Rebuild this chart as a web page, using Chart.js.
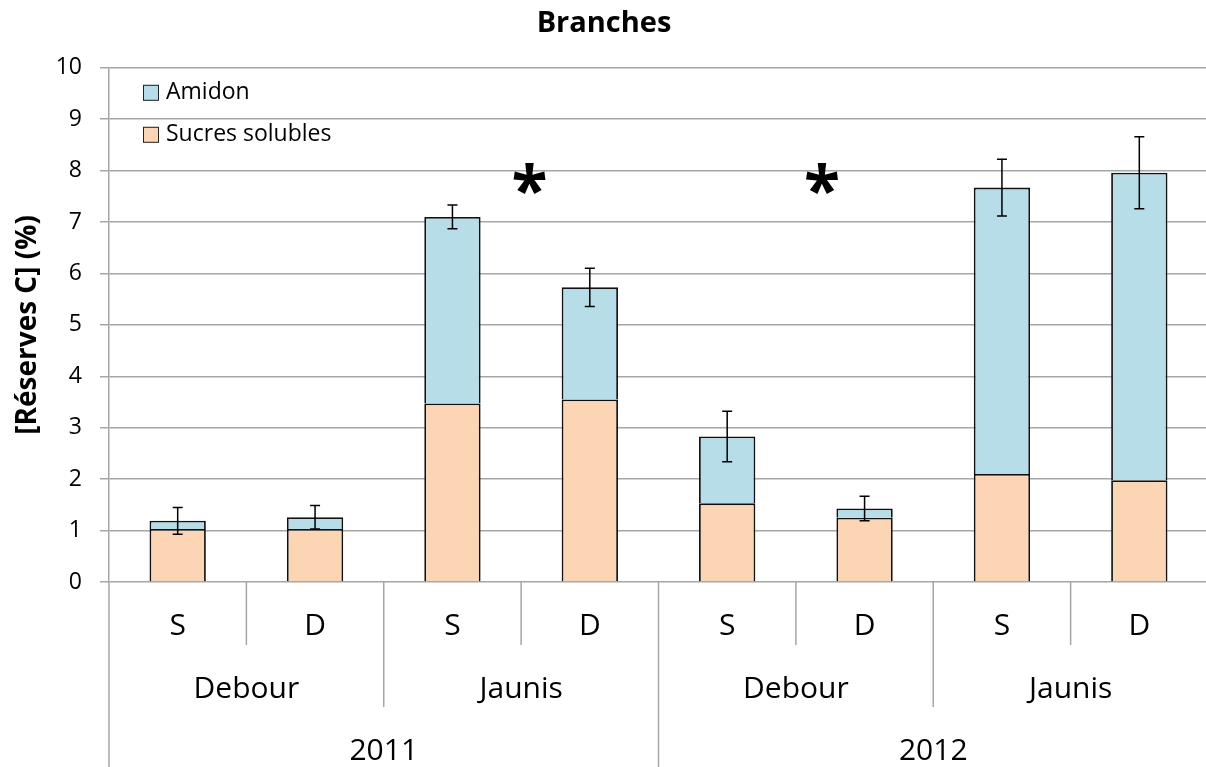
<!DOCTYPE html>
<html>
<head>
<meta charset="utf-8">
<title>Branches</title>
<script src="https://cdn.jsdelivr.net/npm/chart.js@4"></script>
<style>
  html, body { margin: 0; padding: 0; background: #fff; overflow: hidden; }
</style>
</head>
<body>
<canvas id="reservesChart" width="1208" height="767"></canvas>
<script>
// Categories (bottom row of the axis) and their groups
const categories = ["S", "D", "S", "D", "S", "D", "S", "D"];
const stades = ["Debour", "Jaunis", "Debour", "Jaunis"];
const annees = ["2011", "2012"];

// Values (%)
const sucres = [1.03, 1.03, 3.47, 3.55, 1.53, 1.25, 2.10, 1.98];
const amidon = [0.16, 0.23, 3.63, 2.18, 1.30, 0.18, 5.57, 5.98];
const erreurs = [0.26, 0.23, 0.23, 0.37, 0.49, 0.24, 0.55, 0.70];

// significance stars: category position and height
const etoiles = [
  { x: 2.56, y: 7.8 },
  { x: 4.69, y: 7.8 },
];

const yTicks = [0, 1, 2, 3, 4, 5, 6, 7, 8, 9, 10];

const FONT = "'Open Sans', 'DejaVu Sans', sans-serif";
const GRID = "#a6a6a6";

// error bars on top of each stack
const errorBars = {
  id: "errorBars",
  afterDatasetsDraw(chart) {
    const ctx = chart.ctx;
    const x = chart.scales.x, y = chart.scales.y;
    ctx.save();
    ctx.strokeStyle = "#000";
    ctx.lineWidth = 1.5;
    sucres.forEach((s, i) => {
      const tot = s + amidon[i];
      const px = x.getPixelForValue(i);
      const top = y.getPixelForValue(tot + erreurs[i]);
      const bot = y.getPixelForValue(tot - erreurs[i]);
      ctx.beginPath();
      ctx.moveTo(px, top); ctx.lineTo(px, bot);
      ctx.moveTo(px - 5, top); ctx.lineTo(px + 5, top);
      ctx.moveTo(px - 5, bot); ctx.lineTo(px + 5, bot);
      ctx.stroke();
    });
    // stars
    ctx.fillStyle = "#000";
    ctx.font = "bold 66px " + FONT;
    ctx.textAlign = "center";
    ctx.textBaseline = "alphabetic";
    etoiles.forEach(e => {
      ctx.fillText("*", x.getPixelForValue(e.x), y.getPixelForValue(e.y) + 33);
    });
    ctx.restore();
  }
};

// legend inside the plot, top-left
const innerLegend = {
  id: "innerLegend",
  afterDraw(chart) {
    const ctx = chart.ctx;
    const a = chart.chartArea;
    ctx.save();
    ctx.font = "23px " + FONT;
    ctx.textBaseline = "middle";
    ctx.textAlign = "left";
    chart.data.datasets.slice().reverse().forEach((ds, k) => {
      const yy = a.top + 25 + k * 42;
      ctx.fillStyle = ds.backgroundColor;
      ctx.fillRect(a.left + 34, yy - 8, 16, 16);
      ctx.strokeStyle = "#222";
      ctx.lineWidth = 1;
      ctx.strokeRect(a.left + 34.5, yy - 7.5, 15, 15);
      ctx.fillStyle = "#000";
      ctx.fillText(ds.label, a.left + 57, yy);
    });
    ctx.restore();
  }
};

// multi-level category axis: separators and group labels
const groupAxis = {
  id: "groupAxis",
  afterDraw(chart) {
    const ctx = chart.ctx;
    const x = chart.scales.x;
    const a = chart.chartArea;
    const base = a.bottom;
    const H = chart.height;
    const step = x.getPixelForValue(1) - x.getPixelForValue(0);
    const edge = i => x.getPixelForValue(i) - step / 2;
    ctx.save();
    ctx.strokeStyle = GRID;
    ctx.lineWidth = 1.5;
    ctx.beginPath();
    for (let i = 0; i <= categories.length; i++) {
      let bottom = base + 63;
      if (i % 2 === 0) bottom = base + 125;
      if (i % 4 === 0) bottom = H;
      ctx.moveTo(edge(i), base);
      ctx.lineTo(edge(i), bottom);
    }
    ctx.stroke();
    ctx.fillStyle = "#000";
    ctx.font = "30px " + FONT;
    ctx.textAlign = "center";
    ctx.textBaseline = "middle";
    stades.forEach((s, g) => {
      ctx.fillText(s, (edge(g * 2) + edge(g * 2 + 2)) / 2, base + 107);
    });
    annees.forEach((s, g) => {
      ctx.fillText(s, (edge(g * 4) + edge(g * 4 + 4)) / 2, base + 169);
    });
    ctx.restore();
  }
};

const config = {
  type: "bar",
  data: {
    labels: categories,
    datasets: [
      {
        label: "Sucres solubles",
        data: sucres,
        backgroundColor: "#fcd5b5",
        borderColor: "#111",
        borderWidth: 1.8,
        barPercentage: 0.41,
        categoryPercentage: 1,
      },
      {
        label: "Amidon",
        data: amidon,
        backgroundColor: "#b7dde8",
        borderColor: "#111",
        borderWidth: 1.8,
        barPercentage: 0.41,
        categoryPercentage: 1,
      },
    ],
  },
  options: {
    responsive: false,
    animation: false,
    layout: { padding: 0 },
    plugins: {
      legend: { display: false },
      tooltip: { enabled: false },
      title: {
        display: true,
        text: "Branches",
        color: "#000",
        font: { family: FONT, size: 29, weight: "bold" },
        padding: { top: 6, bottom: 27 },
      },
    },
    scales: {
      x: {
        stacked: true,
        grid: { display: false, drawTicks: false },
        border: { display: false },
        ticks: {
          color: "#000",
          font: { family: FONT, size: 30 },
          padding: 26,
        },
        afterFit(scale) { scale.height = 185; },
      },
      y: {
        stacked: true,
        min: 0,
        max: 10,
        afterBuildTicks(scale) { scale.ticks = yTicks.map(v => ({ value: v })); },
        grid: { color: GRID, lineWidth: 1.5, tickLength: 9 },
        border: { color: GRID, width: 1.5 },
        ticks: {
          color: "#000",
          font: { family: FONT, size: 23 },
          padding: 18,
        },
        title: {
          display: true,
          text: "[Réserves C] (%)",
          color: "#000",
          font: { family: FONT, size: 28, weight: "bold" },
          padding: { top: 11, bottom: 0 },
        },
        afterFit(scale) { scale.width = 109; },
      },
    },
  },
  plugins: [errorBars, innerLegend, groupAxis],
};

const reservesChart = new Chart(document.getElementById("reservesChart"), config);
</script>
</body>
</html>
